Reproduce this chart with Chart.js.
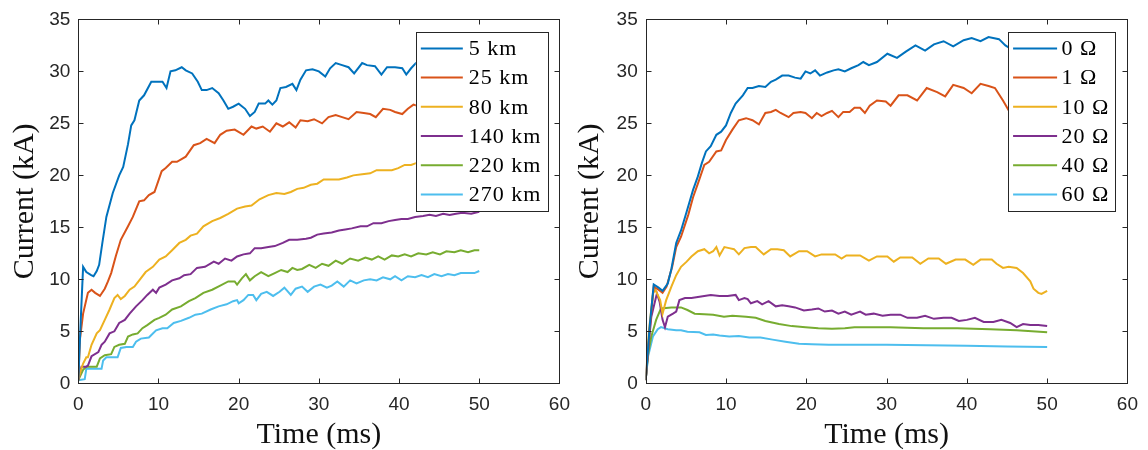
<!DOCTYPE html>
<html><head><meta charset="utf-8">
<script src="https://cdn.jsdelivr.net/npm/chart.js@4.4.0/dist/chart.umd.min.js"></script>
<style>
html,body{margin:0;padding:0;background:#fff;width:1148px;height:450px;overflow:hidden;}
.wrap{position:absolute;top:0;height:450px;width:580px;}
</style></head><body>
<div class="wrap" style="left:0"><canvas id="c1"></canvas></div>
<div class="wrap" style="left:568px"><canvas id="c2"></canvas></div>
<script>
// ---------- DATA: left panel (distance) ----------
const distLabels = ['5 km','25 km','80 km','140 km','220 km','270 km'];
const km5T  = [0,0.3,0.6,1,1.6,1.9,2.3,2.6,3.0,3.5,4.3,5.1,5.6,6.2,6.6,7,7.6,8.2,9.1,9.9,10.5,11,11.5,12.1,12.9,13.4,14.2,14.9,15.4,16,16.7,17.5,18.1,18.7,19.3,20,20.8,21.4,22,22.5,23.3,23.7,24.2,24.7,25.2,25.9,26.7,27.2,27.7,28.4,29.2,30,30.8,31.4,32.1,32.9,33.7,34.4,35.4,36,37,37.8,38.5,39.5,40.4,40.9,41.5,42.1,43,44,45,46,47,48,49,50];
const km5I  = [0.3,6,11.2,10.7,10.4,10.3,10.8,11.4,13.5,16,18.3,20,20.8,23,24.8,25.3,27.2,27.7,29,29,29,28.4,30,30.1,30.4,30.1,29.8,29,28.2,28.2,28.4,27.9,27.2,26.4,26.6,26.9,26.4,25.7,26.1,26.9,26.9,27.2,26.8,27.2,28.4,28.5,28.8,28.2,29.2,30.1,30.2,30,29.5,30.3,30.8,30.6,30.4,29.8,30.8,30.6,30.5,29.7,30.4,30.4,30.3,29.7,30.3,30.8,30.6,30.4,30.7,30.5,30.8,30.4,30.6,30.7];
const km25T = [0,0.2,0.6,1.2,1.65,2.1,2.7,3.3,3.7,4.1,4.7,5.3,6.2,6.8,7.6,8.2,8.8,9.5,10.4,10.9,11.7,12.3,13.4,14.4,15.2,16,17,17.7,18.5,19.5,20.6,21.6,22.2,23,23.9,24.7,25.5,26.3,27.1,27.7,28.6,29.4,30.4,31.2,32.1,32.9,33.7,34.7,35.6,36.4,37.1,38,38.9,39.5,40.4,41.1,41.8,43,44,45,46,47,48,49,50];
const km25I = [0.3,4.2,6.7,8.7,9.0,8.7,8.4,9.1,9.8,10.6,12.3,13.8,15.1,16,17.5,17.6,18.1,18.4,20.4,20.7,21.3,21.3,21.8,22.9,23.1,23.5,23.1,23.9,24.3,24.4,23.9,24.7,24.5,24.7,24.2,25,24.7,25.1,24.6,25.3,25.2,25.4,25,25.6,25.8,25.6,25.4,26.1,26,25.9,25.6,26.4,26.3,26.1,25.9,26.4,26.8,26.5,26.8,26.6,27,26.8,27.1,26.9,27.1];
const km80T = [0,0.3,0.6,1.0,1.2,1.65,2.3,2.7,3.3,3.9,4.5,4.9,5.3,5.8,6.4,7,7.6,8.4,9.3,10.1,10.9,11.7,12.6,13.4,14,14.8,15.6,16.7,17.7,18.7,19.8,20.8,21.6,22.6,23.7,24.7,25.7,26.5,27.3,28.1,29,29.8,30.6,31.6,32.5,33.5,34.3,35.4,36.4,37.2,38,39.1,39.9,40.7,41.5,42.2,43.5,45,46.5,48,50];
const km80I = [0.3,1.2,1.9,2.5,2.5,3.7,4.8,5.1,6.1,7.1,8.2,8.5,8.1,8.4,9,9.3,9.9,10.7,11.2,11.9,12.2,12.8,13.5,13.8,14.2,14.4,15.1,15.6,15.9,16.3,16.8,17,17.1,17.7,18.1,18.3,18.2,18.4,18.7,18.8,19.1,19.2,19.6,19.6,19.6,19.8,20,20.1,20.2,20.5,20.5,20.5,20.7,21,21,21.2,21.3,21.6,21.8,22,22.2];
const km140T = [0,0.4,1.0,1.2,1.65,2.5,2.9,3.3,3.9,4.5,5.1,5.8,6.4,7.2,8,8.6,9.3,9.7,10.1,10.9,11.7,12.6,13.2,14,14.8,15.8,16.9,17.5,18.3,19.1,19.8,20.6,21.4,22,22.8,23.7,24.5,25.5,26.3,27.3,28.4,29,29.8,30.6,31.6,32.5,33.3,34.1,35.2,36,36.8,37.8,38.7,39.5,40.3,41.1,42,43,43.8,44.6,45.5,46.3,47.1,47.9,49,50];
const km140I = [0.3,1.6,1.6,1.7,2.6,3.0,3.7,4,4.8,5,5.8,6.1,6.7,7.4,8,8.5,9,8.7,9.2,9.5,9.9,10.1,10.4,10.5,11.1,11.2,11.7,11.5,12,11.8,12.2,12.4,12.5,13,13,13.1,13.2,13.5,13.8,13.8,13.9,14,14.3,14.4,14.5,14.7,14.8,14.9,15.1,15.1,15.4,15.4,15.6,15.7,15.8,15.8,16,16.1,16.2,16.1,16.3,16.2,16.3,16.4,16.3,16.5];
const km220T = [0,0.6,1.0,2.3,2.7,3.3,4.1,4.5,5.1,5.8,6.2,6.8,7.4,8,8.6,9.5,10.1,10.9,11.7,12.8,13.8,14.6,15.6,16.7,17.7,18.7,19.5,19.8,20.4,20.9,21.4,22,22.8,23.7,24.5,25.3,26.1,26.7,27.3,27.9,28.8,29.6,30.4,31.2,32.1,32.9,33.9,34.9,35.8,36.6,37.4,38.2,39.1,39.9,40.7,41.5,42.4,43.4,44.2,45.1,45.9,46.9,47.7,48.6,49.4,50];
const km220I = [0.3,1.3,1.6,1.6,2.4,2.7,2.8,3.5,3.7,3.8,4.5,4.7,4.8,5.3,5.6,6.1,6.3,6.6,7.1,7.4,7.9,8.2,8.7,9,9.4,9.8,9.8,9.5,10.1,10.5,9.9,10.3,10.7,10.3,10.6,10.9,10.7,11.1,10.9,11,11.4,11.1,11.5,11.3,11.8,11.5,12,11.8,12.1,11.9,12.2,11.9,12.3,12.2,12.4,12.2,12.5,12.4,12.6,12.4,12.7,12.6,12.8,12.6,12.8,12.8];
const km270T = [0,0.8,1.0,2.9,3.1,3.5,4.9,5.3,6,6.8,7.2,7.8,8.8,9.7,10.5,11.1,11.9,12.8,13.8,14.6,15.4,16.5,17.5,18.5,19.3,19.8,20,20.6,21.2,21.8,22.2,22.8,23.5,24.3,25.1,25.7,26.5,27.1,27.9,28.6,29.4,30.2,31,31.6,32.3,33.1,33.9,34.7,35.6,36.4,37.2,38,38.9,39.5,40.3,41.1,42,42.8,43.6,44.4,45.3,46.1,46.9,47.7,48.6,49.4,50];
const km270I = [0.3,0.4,1.4,1.4,2.2,2.5,2.5,3.4,3.5,3.5,4,4.3,4.4,5.1,5.3,5.3,5.8,6,6.3,6.6,6.7,7.1,7.4,7.6,7.9,8,7.7,8,8.5,8.5,8,8.6,8.8,8.4,8.8,9.2,8.5,9.1,9.3,8.8,9.3,9.5,9.2,9.4,9.8,9.3,9.9,9.6,9.9,10,9.9,10.2,10,10.3,9.9,10.3,10.2,10.4,10.2,10.5,10.3,10.5,10.4,10.6,10.6,10.6,10.8];

// ---------- DATA: right panel (resistance) ----------
const resLabels = ['0 \u03A9','1 \u03A9','10 \u03A9','20 \u03A9','40 \u03A9','60 \u03A9'];
const r0T = [0,0.5,1.0,1.6,2.1,2.75,3.2,3.8,4.4,5.1,5.9,6.5,7,7.5,8.1,8.8,9.4,10,10.6,11.2,12.1,12.7,13.3,14.1,14.9,15.6,16.2,17,17.8,18.6,19.3,19.9,20.5,21.1,21.7,22.6,23.4,24,24.8,25.6,26.5,27.1,27.8,28.8,30.1,31.3,32.4,33.6,34.8,35.9,37.1,38.3,39.6,40.6,41.7,42.7,44,44.8,45.4,46.5,47.5,48.5,50];
const r0I = [0.3,5.5,9.5,9.2,8.9,9.6,11.0,13.5,14.7,16.5,18.6,19.9,21.2,22.3,22.8,23.9,24.2,24.8,26,26.9,27.7,28.4,28.4,28.6,28.5,29,29.2,29.6,29.6,29.4,29.3,30,29.8,30.1,29.6,29.9,30.1,30.2,30,30.3,30.6,30.9,30.6,30.9,31.7,31.3,31.9,32.5,32,32.6,32.9,32.4,33,33.2,32.9,33.3,33.1,32.5,32.2,31.6,31.2,30.8,30.4];
const r1T = [0,0.5,1.0,1.6,2.1,2.6,3.3,3.8,4.4,5.3,5.9,6.5,7.3,7.9,8.8,9.4,10,10.8,11.6,12.5,13.3,14.1,14.9,15.6,16.2,16.8,17.8,18.4,19.3,19.9,20.7,21.3,21.9,22.6,23.2,24,24.6,25.4,26,26.7,27.3,27.9,28.8,29.9,30.5,31.5,32.6,33.8,35,36.3,37.3,38.3,39.6,40.6,41.7,42.7,43.5,44.5,45.4,46.5,47.5,48.5,50];
const r1I = [0.3,5.2,9.3,9.0,8.7,9.3,11.2,13.1,14.1,16.2,17.9,19.2,21,21.3,22.3,22.4,23.4,24.4,25.3,25.5,25.3,24.9,26,26.1,26.3,26,25.6,26,26.1,26,25.5,26,25.7,26,26.2,25.6,26.1,26.1,26.5,26.5,26,26.7,27.2,27.1,26.7,27.7,27.7,27.2,28.4,28,27.6,28.7,28.4,27.9,28.8,28.6,28.4,27.2,26,24.5,23.3,22.5,22];
const r10T = [0,0.4,0.9,1.2,1.8,2.1,2.55,3.2,3.8,4.4,5.1,5.7,6.5,7.3,7.9,8.4,8.8,9.2,9.8,10.4,11,11.6,12.3,13.1,13.7,14.7,15.6,16.4,17.2,18,19.1,20.1,21.1,21.9,22.8,23.6,24.4,25,25.6,26.7,27.8,28.8,30.1,30.9,31.7,33.2,34.2,35.2,36.5,37.4,38.6,39.8,40.8,41.7,43.1,43.7,44.5,45.2,46.2,47,47.9,48.3,48.9,49.3,50];
const r10I = [0.3,5,8.65,9,8,6.7,8.0,9.3,10.4,11.2,11.7,12.2,12.7,12.9,12.5,12.7,13.1,12.3,13.1,13,12.9,12.4,13,13.1,13.1,12.4,12.9,12.9,12.8,12.2,12.7,12.7,12.2,12.4,12.4,12.4,12,12.3,12.3,12.3,11.8,12.2,12.2,11.7,12.1,12.1,11.5,12,12,11.5,11.9,11.9,11.4,11.9,11.9,11.5,11.1,11.2,11.1,10.6,9.8,9.1,8.7,8.6,8.9];
const r20T = [0,0.4,0.7,1.4,1.73,2.1,2.4,2.75,3.4,3.8,4.2,4.9,5.7,6.5,7.3,8.1,9.2,10.2,11.2,11.6,12.3,12.7,13.1,13.9,14.5,15.3,16.2,17,17.8,18.6,19.7,20.7,21.5,22.3,23.2,24,24.8,25.6,26.7,27.4,28.4,29.5,30.5,31.7,32.6,33.8,34.8,35.9,37.1,38.1,39,40,41,42.1,43.3,44.3,45.4,46.2,47,47.9,48.9,50];
const r20I = [0.3,4,6.4,8.65,7.85,6.1,5.4,6.4,6.7,6.9,8.0,8.2,8.2,8.3,8.4,8.5,8.4,8.4,8.5,8,8.2,8.1,7.7,7.9,7.6,7.9,7.4,7.5,7.4,7.3,7,7.1,7.2,6.9,7,6.7,6.9,6.6,6.9,6.6,6.7,6.5,6.6,6.6,6.3,6.3,6.5,6.2,6.3,6.3,6,6.1,6.3,5.9,5.9,6.1,5.8,5.4,5.7,5.6,5.6,5.5];
const r40T = [0,0.3,0.7,1.3,1.9,3.2,4.4,5.2,6.1,7.3,8.4,9.75,10.8,12.5,13.7,14.9,16.6,18.2,19.9,21.5,23.2,24.8,26,27.7,30.5,34.6,38.8,42.9,46.2,50];
const r40I = [0.3,2.8,4.5,6.1,7.2,7.3,7.3,7.05,6.7,6.65,6.6,6.4,6.5,6.4,6.3,6,5.7,5.5,5.4,5.3,5.25,5.3,5.4,5.4,5.4,5.3,5.3,5.2,5.1,4.9];
const r60T = [0,0.3,0.9,1.5,1.9,2.75,3.8,4.4,5.2,6.7,7.5,8.4,9.2,10.4,11.6,12.9,14.3,15.8,17.4,19.1,20.7,22.8,24.8,26.9,30,35,40,45,50];
const r60I = [0.3,2.6,4.5,5.2,5.4,5.2,5.1,5.1,4.95,4.9,4.65,4.7,4.6,4.5,4.55,4.4,4.4,4.2,4,3.8,3.75,3.7,3.7,3.7,3.7,3.65,3.6,3.55,3.5];

const seriesColors = ['#0072BD','#D95319','#EDB120','#7E2F8E','#77AC30','#4DBEEE'];
const xTicks = [0,10,20,30,40,50,60];
const yTicks = [0,5,10,15,20,25,30,35];

const INK = '#262626';
const SANS = "'Liberation Sans', Arial, sans-serif";
const SERIF = "'Liberation Serif', 'Times New Roman', serif";

function pts(T, I){ return T.map((t,k)=>({x:t, y:I[k]})); }

const frameAndLegend = {
  id: 'frameAndLegend',
  afterDraw(chart, args, opts) {
    const ctx = chart.ctx, a = chart.chartArea;
    const xs = chart.scales.x, ys = chart.scales.y;
    ctx.save();
    ctx.strokeStyle = INK; ctx.lineWidth = 1;
    const L = Math.round(a.left)+0.5, R = Math.round(a.right)+0.5, T = Math.round(a.top)+0.5, B = Math.round(a.bottom)+0.5;
    ctx.beginPath();
    xTicks.forEach(v => { const p = Math.round(xs.getPixelForValue(v))+0.5; ctx.moveTo(p,B); ctx.lineTo(p,B-5); ctx.moveTo(p,T); ctx.lineTo(p,T+5); });
    yTicks.forEach(v => { const p = Math.round(ys.getPixelForValue(v))+0.5; ctx.moveTo(L,p); ctx.lineTo(L+5,p); ctx.moveTo(R,p); ctx.lineTo(R-5,p); });
    ctx.stroke();
    ctx.strokeRect(L, T, R-L, B-T);
    // legend
    const labels = opts.labels;
    ctx.font = "22px " + SERIF;
    if ('letterSpacing' in ctx) ctx.letterSpacing = '1px';
    let maxW = 0; labels.forEach(s => { maxW = Math.max(maxW, ctx.measureText(s).width); });
    const lineLen = opts.lineLen, gap = opts.gap;
    const w = 5 + lineLen + gap + maxW + 6;
    const h = 178.7, rowH = 29.2;
    const bx = a.right - 12 - w, by = a.top + 12.7;
    ctx.fillStyle = '#fff';
    ctx.fillRect(bx, by, w, h);
    ctx.strokeStyle = INK; ctx.lineWidth = 1;
    ctx.strokeRect(Math.round(bx)+0.5, Math.round(by)+0.5, Math.round(w), Math.round(h));
    labels.forEach((s, k) => {
      const cy = by + 16.3 + k*rowH;
      ctx.strokeStyle = seriesColors[k]; ctx.lineWidth = 2;
      ctx.beginPath(); ctx.moveTo(bx+5, cy); ctx.lineTo(bx+5+lineLen, cy); ctx.stroke();
      ctx.fillStyle = '#000'; ctx.textBaseline = 'middle'; ctx.textAlign = 'left';
      ctx.fillText(s, bx+5+lineLen+gap, cy+1);
    });
    if ('letterSpacing' in ctx) ctx.letterSpacing = '0px';
    ctx.restore();
  }
};

function makeChart(id, labels, Ts, Is, yw, padRight, yTitlePad, lineLen, gap) {
  const datasets = labels.map((lab, k) => ({
    label: lab, data: pts(Ts[k], Is[k]), borderColor: seriesColors[k], backgroundColor: seriesColors[k],
    borderWidth: 2, pointRadius: 0, fill: false, tension: 0
  }));
  return new Chart(document.getElementById(id), {
    type: 'line',
    data: { datasets },
    plugins: [frameAndLegend],
    options: {
      responsive: true, maintainAspectRatio: false, animation: false, devicePixelRatio: 1,
      layout: { padding: { top: 19.3, right: padRight, bottom: 0, left: 0 } },
      plugins: { legend: { display: false }, tooltip: { enabled: false },
        frameAndLegend: { labels, lineLen, gap } },
      scales: {
        x: {
          type: 'linear', min: 0, max: 60,
          afterBuildTicks: s => { s.ticks = xTicks.map(v => ({value: v})); },
          ticks: { font: { family: SANS, size: 19 }, color: INK, padding: 10, maxRotation: 0, autoSkip: false },
          grid: { display: false, drawTicks: false }, border: { display: false },
          title: { display: true, text: 'Time (ms)', color: '#111', font: { family: SERIF, size: 30, lineHeight: 1 }, padding: { top: 0, bottom: 0 } },
          afterFit: s => { s.height = 66.7; }
        },
        y: {
          type: 'linear', min: 0, max: 35,
          afterBuildTicks: s => { s.ticks = yTicks.map(v => ({value: v})); },
          ticks: { font: { family: SANS, size: 19 }, color: INK, padding: 8, autoSkip: false },
          grid: { display: false, drawTicks: false }, border: { display: false },
          title: { display: true, text: 'Current (kA)', color: '#111', font: { family: SERIF, size: 30, lineHeight: 1 }, padding: { top: yTitlePad, bottom: 0 } },
          afterFit: s => { s.width = yw; }
        }
      }
    }
  });
}

makeChart('c1', distLabels, [km5T,km25T,km80T,km140T,km220T,km270T], [km5I,km25I,km80I,km140I,km220I,km270I], 78.3, 15.7, 10, 42, 6);
makeChart('c2', resLabels, [r0T,r1T,r10T,r20T,r40T,r60T], [r0I,r1I,r10I,r20I,r40I,r60I], 77.7, 16.3, 7, 44, 4.5);
</script>
</body></html>
